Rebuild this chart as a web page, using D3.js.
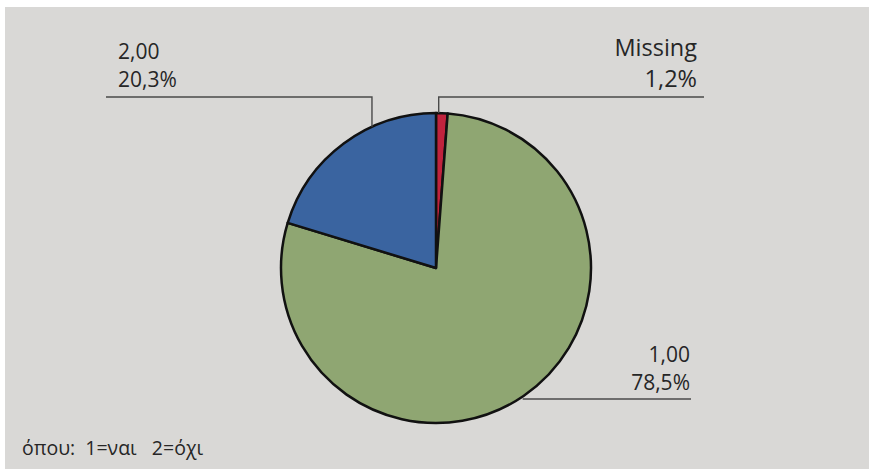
<!DOCTYPE html>
<html>
<head>
<meta charset="utf-8">
<script src="https://cdn.jsdelivr.net/npm/d3@7/dist/d3.min.js"></script>
<style>
  html, body { margin: 0; padding: 0; background: #ffffff; }
  svg { display: block; }
  text { font-family: "Open Sans", "DejaVu Sans", sans-serif; fill: #262626; }
</style>
</head>
<body>
<div id="chart"></div>
<script>
// dades del gràfic
const categories = ["Missing", "1,00", "2,00"];
const percents = [1.2, 78.5, 20.3];
const percentLabels = ["1,2%", "78,5%", "20,3%"];
const colors = ["#c0233d", "#8fa672", "#3a64a0"];
const footnote = "όπου:  1=ναι   2=όχι";

const width = 869;
const height = 469;
const cx = 436, cy = 268, radius = 155;

const svg = d3.select("#chart").append("svg")
    .attr("width", width)
    .attr("height", height);

// fons gris
svg.append("rect")
    .attr("x", 5)
    .attr("y", 7)
    .attr("width", width - 5)
    .attr("height", height - 7)
    .attr("fill", "#d9d8d6");

const pie = d3.pie().sort(null).value(d => d)(percents);
const arc = d3.arc().innerRadius(0).outerRadius(radius);

const g = svg.append("g").attr("transform", `translate(${cx},${cy})`);

g.selectAll("path")
  .data(pie)
  .join("path")
    .attr("d", arc)
    .attr("fill", (d, i) => colors[i])
    .attr("stroke", "#111")
    .attr("stroke-width", 2.5)
    .attr("stroke-linejoin", "round");

// posicio de les etiquetes (angle del punt d'ancoratge i on va el text)
const labelLayout = [
  { angle: 1.0,   lineY: 97,  lineEnd: 704, textX: 697, anchor: "end",   y1: 56,  y2: 87,  size: 23.5 },
  { angle: 146,   lineY: 399, lineEnd: 691, textX: 690, anchor: "end",   y1: 362, y2: 390, size: 21 },
  { angle: 335.6, lineY: 97,  lineEnd: 106, textX: 118, anchor: "start", y1: 59,  y2: 87,  size: 21 }
];

const leaders = svg.append("g")
    .attr("fill", "none")
    .attr("stroke", "#4a4a4a")
    .attr("stroke-width", 1.4);

labelLayout.forEach((l, i) => {
  const a = l.angle * Math.PI / 180;
  const px = cx + radius * Math.sin(a);
  const py = cy - radius * Math.cos(a);
  let pts;
  if (Math.abs(py - l.lineY) < 3) {
    pts = [[px, l.lineY], [l.lineEnd, l.lineY]];
  } else {
    pts = [[px, py], [px, l.lineY], [l.lineEnd, l.lineY]];
  }
  leaders.append("path").attr("d", d3.line()(pts));

  svg.append("text")
      .attr("x", l.textX)
      .attr("y", l.y1)
      .attr("text-anchor", l.anchor)
      .attr("font-size", l.size)
      .text(categories[i]);
  svg.append("text")
      .attr("x", l.textX)
      .attr("y", l.y2)
      .attr("text-anchor", l.anchor)
      .attr("font-size", l.size)
      .text(percentLabels[i]);
});

svg.append("text")
    .attr("x", 22)
    .attr("y", 455)
    .attr("font-size", 19.5)
    .style("white-space", "pre")
    .attr("xml:space", "preserve")
    .text(footnote);
</script>
</body>
</html>
